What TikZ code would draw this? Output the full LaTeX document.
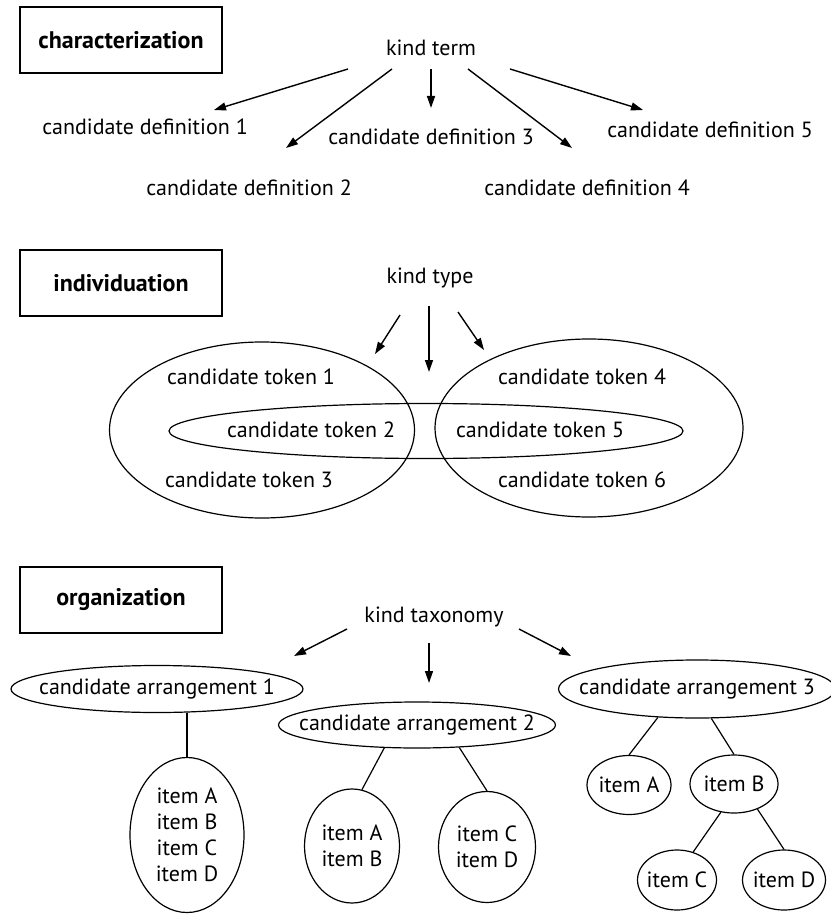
\documentclass[tikz,border=0pt]{standalone}
\usepackage{fontspec}
\setmainfont{PT Sans}
\usetikzlibrary{arrows.meta,shapes.geometric}

\begin{document}
\begin{tikzpicture}[x=0.5pt,y=-0.5pt,
  every node/.style={font=\fontsize{11}{13}\selectfont},
  arr/.style={-{Triangle[length=6pt,width=4pt]},line width=0.7pt},
  heading/.style={draw,line width=0.8pt,minimum width=101pt,minimum height=33pt,
    font=\fontsize{12}{14}\selectfont\bfseries},
  oval/.style={draw,ellipse,line width=0.6pt,inner ysep=0pt,inner xsep=-10pt,align=center},
  link/.style={line width=0.6pt}]
\useasboundingbox (0,0) rectangle (830,914);

% characterization
\node [heading] (hchar) at (121,40) {characterization};
\node (kterm) at (431,48) {kind term};
\node (def1) at (145,127) {candidate definition 1};
\node (def2) at (249,188) {candidate definition 2};
\node (def3) at (431,137) {candidate definition 3};
\node (def4) at (587,188) {candidate definition 4};
\node (def5) at (710,130) {candidate definition 5};

\coordinate (t1) at (348,69);  \coordinate (e1) at (214,110);
\coordinate (t2) at (392,69);  \coordinate (e2) at (286,148);
\coordinate (t3) at (431,69);  \coordinate (e3) at (431,108);
\coordinate (t4) at (468,69);  \coordinate (e4) at (572,148);
\coordinate (t5) at (510,69);  \coordinate (e5) at (643,110);
\draw [arr] (t1) -- (e1);
\draw [arr] (t2) -- (e2);
\draw [arr] (t3) -- (e3);
\draw [arr] (t4) -- (e4);
\draw [arr] (t5) -- (e5);

% individuation
\node [heading] (hind) at (121,283) {individuation};
\node (ktype) at (430,278) {kind type};

\coordinate (s1) at (400,315);  \coordinate (f1) at (375,354);
\coordinate (s2) at (429,306);  \coordinate (f2) at (429,372);
\coordinate (s3) at (458,312);  \coordinate (f3) at (484,350);
\draw [arr] (s1) -- (f1);
\draw [arr] (s2) -- (f2);
\draw [arr] (s3) -- (f3);

\node [oval,minimum width=152.5pt,minimum height=88pt] (setL) at (262,430) {};
\node [oval,minimum width=154pt,minimum height=89pt] (setR) at (589,428) {};
\node [oval,minimum width=257pt,minimum height=27.5pt] (setM) at (426,431) {};

\node (tok1) at (251,377) {candidate token 1};
\node (tok2) at (311,430) {candidate token 2};
\node (tok3) at (249,480) {candidate token 3};
\node (tok4) at (582,377) {candidate token 4};
\node (tok5) at (540,430) {candidate token 5};
\node (tok6) at (582,480) {candidate token 6};

% organization
\node [heading] (horg) at (121,600) {organization};
\node (ktax) at (434,617) {kind taxonomy};

\coordinate (u1) at (347,629);  \coordinate (v1) at (294,656);
\coordinate (u2) at (429,643);  \coordinate (v2) at (429,683);
\coordinate (u3) at (519,629);  \coordinate (v3) at (571,656);
\draw [arr] (u1) -- (v1);
\draw [arr] (u2) -- (v2);
\draw [arr] (u3) -- (v3);

\node [oval,minimum width=146pt,minimum height=23.5pt] (arrA) at (157,689) {candidate arrangement 1};
\node [oval,minimum width=134pt,minimum height=23pt] (arrB) at (417,725) {candidate arrangement 2};
\node [oval,minimum width=131.5pt,minimum height=29pt] (arrC) at (697,689) {candidate arrangement 3};

\node [oval,minimum width=57pt,minimum height=77.5pt] (aABCD) at (187,835) {item A\\item B\\item C\\item D};

\node [oval,minimum width=47.5pt,minimum height=57pt] (bAB) at (352,846) {item A\\item B};
\node [oval,minimum width=48.5pt,minimum height=55.5pt] (bCD) at (487,847) {item C\\item D};

\node [oval,minimum width=42pt,minimum height=29.5pt] (cA) at (629,785) {item A};
\node [oval,minimum width=44pt,minimum height=29pt] (cB) at (734,784) {item B};
\node [oval,minimum width=39.5pt,minimum height=30pt] (cC) at (677,880) {item C};
\node [oval,minimum width=41.5pt,minimum height=30pt] (cD) at (784,880) {item D};

\draw [link] (aABCD.north) -- (aABCD.north |- arrA.south);
\draw [link] (arrB.215) -- (bAB.80);
\draw [link] (arrB.332) -- (bCD.north);
\draw [link] (arrC.216) -- (cA.north);
\draw [link] (arrC.296) -- (cB.north);
\draw [link] (cB.245) -- (cC.60);
\draw [link] (cB.313) -- (cD.north);
\end{tikzpicture}
\end{document}
